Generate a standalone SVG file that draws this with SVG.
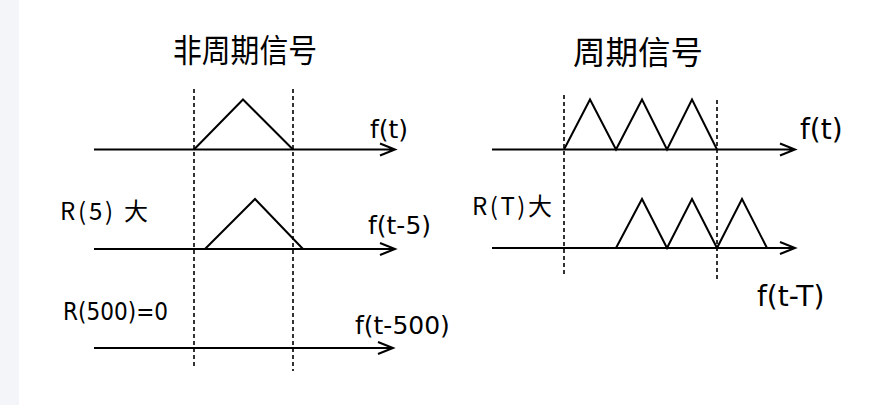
<svg xmlns="http://www.w3.org/2000/svg" width="873" height="405" viewBox="0 0 873 405">
<defs>
<style>
.axis{stroke:#000;stroke-width:2;fill:none}
.sig{stroke:#000;stroke-width:2;fill:none;stroke-linejoin:miter}
.dash{stroke:#000;stroke-width:1.6;stroke-dasharray:4 3;fill:none}
.title{font-family:"Noto Sans CJK SC","Noto Sans",sans-serif;font-size:32px;fill:#000}
.lbl{font-family:"DejaVu Sans","Noto Sans CJK SC",sans-serif;font-size:25px;fill:#000}
.lbl-lg{font-family:"DejaVu Sans","Noto Sans CJK SC",sans-serif;font-size:28px;fill:#000}
.lblc{font-family:"Noto Sans CJK SC","DejaVu Sans",sans-serif;font-size:24px;fill:#000}
</style>
</defs>
<rect x="0" y="0" width="873" height="405" fill="#ffffff"/>
<rect x="0" y="0" width="19" height="405" fill="#f3f5f9"/>

<g id="left-title"><text class="title" x="245" y="62" text-anchor="middle" textLength="144" lengthAdjust="spacingAndGlyphs">非周期信号</text></g>
<g id="right-title"><text class="title" x="638" y="64" text-anchor="middle" textLength="130" lengthAdjust="spacingAndGlyphs">周期信号</text></g>

<g id="connectors">
<path class="axis" d="M94 149.5 H395 M380 143.5 L395 149.5 L380 155.5"/>
<path class="axis" d="M94 249 H395 M380 243 L395 249 L380 255"/>
<path class="axis" d="M94 348 H393 M378 342 L393 348 L378 354"/>
<path class="dash" d="M194 89 V369"/>
<path class="dash" d="M293 89 V371"/>
<path class="axis" d="M492 149.5 H795 M780 143.5 L795 149.5 L780 155.5"/>
<path class="axis" d="M492 248 H795 M780 242 L795 248 L780 254"/>
<path class="dash" d="M564 95 V277"/>
<path class="dash" d="M717 100 V279"/>
</g>

<g id="signal-left-1"><path class="sig" d="M194 149.5 L243 99.5 L293 149.5"/></g>
<g id="signal-left-2"><path class="sig" d="M205 249 L255 199 L303 249"/></g>
<g id="signal-right-1"><path class="sig" d="M564 149.5 L590 99.5 L616 149.5 L642 99.5 L667 149.5 L692 99.5 L717 149.5"/></g>
<g id="signal-right-2"><path class="sig" d="M616 248 L642 199 L667 248 L692 199 L717 248 L742 199 L767 248"/></g>

<g id="label-ft-left"><text class="lbl" x="370" y="138">f(t)</text></g>
<g id="label-ft5"><text class="lbl" x="368" y="234">f(t-5)</text></g>
<g id="label-ft500"><text class="lbl" x="355" y="334">f(t-500)</text></g>
<g id="label-r5"><text class="lblc" x="60" y="220" textLength="88" lengthAdjust="spacing">R(5) 大</text></g>
<g id="label-r500"><text class="lbl" x="63" y="320" textLength="105" lengthAdjust="spacingAndGlyphs">R(500)=0</text></g>
<g id="label-ft-right"><text class="lbl-lg" x="800" y="139">f(t)</text></g>
<g id="label-rT"><text class="lblc" x="472" y="215" textLength="80" lengthAdjust="spacing">R(T)大</text></g>
<g id="label-ftT"><text class="lbl-lg" x="757" y="306">f(t-T)</text></g>
</svg>
